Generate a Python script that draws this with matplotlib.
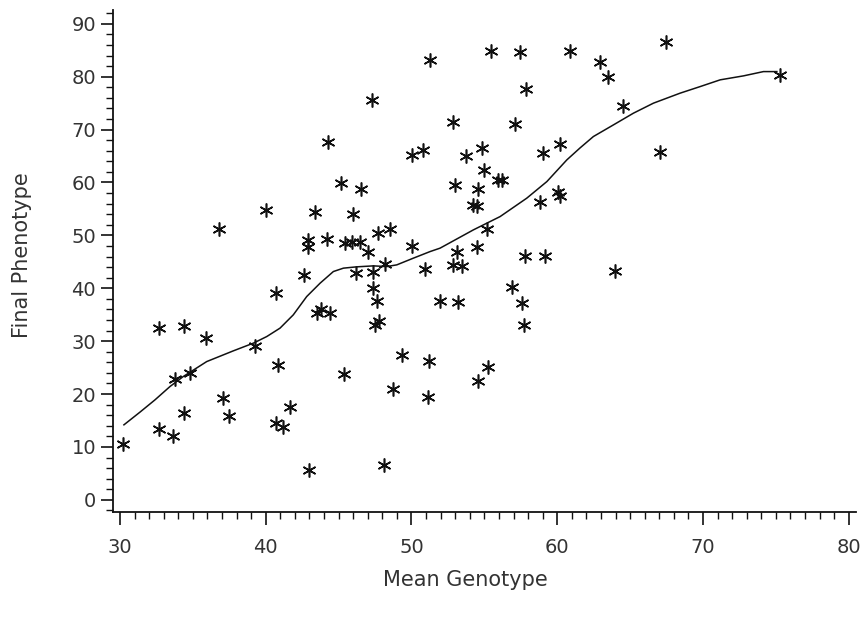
import matplotlib
matplotlib.use("Agg")
import matplotlib.pyplot as plt
from matplotlib.ticker import MultipleLocator

# Scatter data (Mean Genotype, Final Phenotype)
mean_genotype = [
    30.21, 32.68, 34.39, 35.90, 36.77, 33.77, 34.80, 32.66, 33.66, 34.39,
    37.05, 37.50, 39.29, 40.00, 40.71, 40.84, 40.71, 41.17, 41.67, 42.63,
    42.95, 43.38, 43.50, 44.41, 43.80, 42.92, 42.92, 44.19, 44.30, 45.17,
    46.54, 46.01, 45.44, 45.90, 46.47, 45.37, 46.20, 47.39, 47.04, 48.19,
    47.73, 48.53, 47.28, 47.39, 47.62, 47.50, 47.78, 48.12, 48.76, 49.33,
    50.02, 50.78, 50.02, 50.93, 51.16, 51.23, 51.28, 51.96, 53.22, 52.88,
    53.45, 53.11, 54.50, 52.83, 52.99, 53.75, 54.83, 54.98, 55.96, 54.59,
    54.25, 54.50, 55.17, 54.59, 55.28, 55.44, 57.45, 57.11, 57.85, 56.88,
    57.57, 57.73, 57.80, 59.17, 56.20, 58.83, 59.05, 60.20, 60.08, 60.20,
    60.89, 62.94, 63.51, 64.54, 67.06, 67.47, 63.93, 75.30,
]
final_phenotype = [
    10.59, 32.51, 32.89, 30.62, 51.17, 22.87, 24.01, 13.36, 12.15, 16.39,
    19.34, 15.88, 29.17, 54.82, 39.07, 25.52, 14.50, 13.86, 17.52, 42.53,
    5.67, 54.39, 35.29, 35.41, 36.11, 49.15, 47.77, 49.28, 67.73, 59.98,
    58.73, 54.06, 48.64, 48.83, 48.83, 23.82, 42.91, 43.10, 46.88, 44.52,
    50.53, 51.17, 75.61, 40.02, 37.52, 33.08, 33.84, 6.62, 20.93, 27.41,
    65.22, 66.16, 48.02, 43.61, 19.53, 26.28, 83.18, 37.52, 37.49, 44.42,
    44.23, 46.94, 47.73, 71.51, 59.55, 65.03, 66.48, 62.38, 60.49, 58.73,
    55.77, 55.58, 51.17, 22.55, 25.09, 84.88, 84.74, 71.02, 77.69, 40.32,
    37.18, 33.08, 46.03, 46.03, 60.49, 56.39, 65.54, 67.30, 58.28, 57.47,
    84.88, 82.86, 80.02, 74.54, 65.73, 86.52, 43.35, 80.34,
]

# Smoothed curve
smooth_x = [
    30.27, 31.37, 32.40, 33.43, 34.34, 35.95, 37.78, 39.15, 40.07, 40.98,
    41.89, 42.81, 43.73, 44.64, 45.33, 46.25, 47.39, 48.30, 48.99, 50.13,
    51.28, 51.96, 54.25, 56.08, 57.91, 59.29, 60.66, 61.57, 62.48, 63.86,
    65.23, 66.60, 68.43, 69.81, 71.18, 72.78, 74.15, 75.07,
]
smooth_y = [
    14.18, 16.58, 18.90, 21.42, 23.31, 26.14, 28.17, 29.62, 30.87, 32.46,
    34.97, 38.43, 40.96, 43.16, 43.80, 44.05, 44.23, 44.10, 44.42, 45.69,
    46.94, 47.58, 51.04, 53.55, 57.03, 60.17, 64.27, 66.54, 68.68, 70.89,
    73.10, 74.99, 76.88, 78.13, 79.40, 80.15, 80.96, 80.96,
]

x_ticks = [30, 40, 50, 60, 70, 80]
y_ticks = [0, 10, 20, 30, 40, 50, 60, 70, 80, 90]

fig = plt.figure(figsize=(8.63, 6.26), dpi=100)
ax = fig.add_axes([0.1306, 0.1821, 0.8613, 0.8019])

ax.plot(smooth_x, smooth_y, color="#111111", linewidth=1.1)
ax.plot(mean_genotype, final_phenotype, linestyle="none",
        marker=(6, 2, 0), markersize=10, markeredgewidth=1.15,
        color="#111111")

ax.set_xlim(29.5, 80.5)
ax.set_ylim(-2.3, 92.6)

ax.xaxis.set_major_locator(MultipleLocator(10))
ax.xaxis.set_minor_locator(MultipleLocator(1))
ax.yaxis.set_major_locator(MultipleLocator(10))
ax.yaxis.set_minor_locator(MultipleLocator(2))
ax.set_xticks(x_ticks)
ax.set_yticks(y_ticks)

for s in ["top", "right"]:
    ax.spines[s].set_visible(False)
for s in ["left", "bottom"]:
    ax.spines[s].set_linewidth(1.3)
    ax.spines[s].set_color("#111111")

ax.tick_params(axis="both", which="major", direction="out", length=9,
               width=1.2, colors="#111111", labelsize=14, labelcolor="#333333")
ax.tick_params(axis="both", which="minor", direction="out", length=5,
               width=1.0, colors="#111111")
ax.tick_params(axis="x", which="major", pad=10)
ax.tick_params(axis="y", which="major", pad=3)

ax.set_xlabel("Mean Genotype", fontsize=15, color="#333333")
ax.set_ylabel("Final Phenotype", fontsize=15, color="#333333")
ax.xaxis.set_label_coords(0.474, -0.135)
ax.yaxis.set_label_coords(-0.122, 0.512)
ax.xaxis.label.set_va("center")
ax.yaxis.label.set_va("center")

fig.savefig("out.png", dpi=100)
